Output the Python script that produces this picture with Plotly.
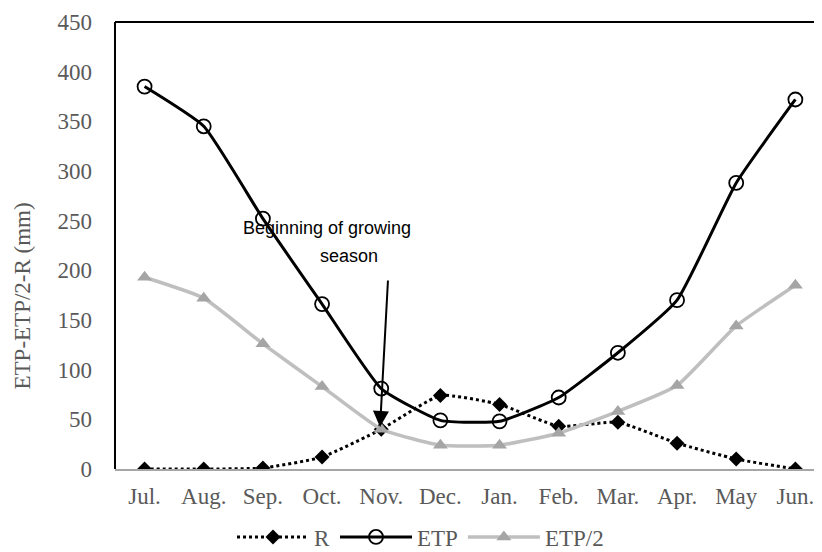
import plotly.graph_objects as go

months = ["Jul.", "Aug.", "Sep.", "Oct.", "Nov.", "Dec.", "Jan.", "Feb.", "Mar.", "Apr.", "May", "Jun."]
R = [0, 0, 1, 12, 40, 74, 65, 43, 47, 26, 10, 0]
ETP = [385, 345, 252, 166, 81, 49, 48, 72, 117, 170, 288, 372]
ETP_half = [193, 172, 126, 83, 40, 24, 24, 36, 58, 84, 144, 185]
y_ticks = [0, 50, 100, 150, 200, 250, 300, 350, 400, 450]

serif = "Liberation Serif, Times New Roman, serif"
tick_gray = "#595959"
FS = 23

x_idx = list(range(len(months)))
SM = 0.45

# page body has an 8px margin, so the figure is sized to fit inside the window
W, H = 814, 544
OFF = 8
L = 115 - OFF
PW = W - L

fig = go.Figure()
fig.add_trace(go.Scatter(
    x=x_idx, y=R, name="R", mode="lines+markers",
    line=dict(color="black", width=3, dash="dot", shape="spline", smoothing=SM),
    marker=dict(symbol="diamond", size=11.5, color="black"),
))
fig.add_trace(go.Scatter(
    x=x_idx, y=ETP, name="ETP", mode="lines+markers",
    line=dict(color="black", width=3, shape="spline", smoothing=SM),
    marker=dict(symbol="circle-open", size=14, color="black", line=dict(width=1.8, color="black")),
))
fig.add_trace(go.Scatter(
    x=x_idx, y=ETP_half, name="ETP/2", mode="lines+markers",
    line=dict(color="#bfbfbf", width=3.5, shape="spline", smoothing=SM),
    marker=dict(symbol="triangle-up", size=13, color="#a5a5a5"),
))

fig.update_layout(
    width=W, height=H,
    margin=dict(l=L, r=0, t=22 - OFF, b=H - (469 - OFF), autoexpand=False),
    plot_bgcolor="white", paper_bgcolor="white",
    font=dict(family=serif, size=FS, color=tick_gray),
    showlegend=True,
    legend=dict(
        orientation="h", xref="container", yref="container",
        x=(232 - OFF) / W, xanchor="left", y=1 - (537 - OFF) / H, yanchor="middle",
        font=dict(family=serif, size=FS, color=tick_gray),
        itemwidth=72, bgcolor="rgba(0,0,0,0)",
    ),
    xaxis=dict(
        range=[-0.5, 11.45], tickmode="array", tickvals=x_idx, ticktext=months,
        showgrid=False, zeroline=False, showline=True, linecolor="#a6a6a6", linewidth=1.5,
        ticks="", ticklabelstandoff=6, automargin=False,
        tickfont=dict(family=serif, size=FS, color=tick_gray),
    ),
    yaxis=dict(
        range=[0, 450], tickmode="array", tickvals=y_ticks,
        showgrid=False, zeroline=False, showline=False,
        ticks="", ticklabelstandoff=22, automargin=False,
        tickfont=dict(family=serif, size=FS, color=tick_gray),
    ),
)

# plot area border (left and top)
fig.add_shape(type="line", xref="paper", yref="paper", x0=0, x1=0, y0=0, y1=1,
              line=dict(color="black", width=2))
fig.add_shape(type="line", xref="paper", yref="paper", x0=0, x1=1, y0=1, y1=1,
              line=dict(color="black", width=2))

# y-axis title
fig.add_annotation(
    text="ETP-ETP/2-R (mm)", xref="paper", yref="paper",
    x=-L / PW, y=0.387, showarrow=False, textangle=-90,
    font=dict(family=serif, size=FS, color=tick_gray),
    xanchor="left", yanchor="middle",
)

ann_font = dict(family="Liberation Sans, Arial, sans-serif", size=18, color="black")
fig.add_annotation(text="Beginning of growing", x=3.083, y=242.7, showarrow=False,
                   font=ann_font, xanchor="center", yanchor="middle")
fig.add_annotation(text="season", x=3.455, y=214.5, showarrow=False,
                   font=ann_font, xanchor="center", yanchor="middle")
fig.add_annotation(
    text="", x=3.98, y=42.3, ax=4.115, ay=191.3, axref="x", ayref="y",
    showarrow=True, arrowhead=2, arrowsize=1.6, arrowwidth=2, arrowcolor="black",
    standoff=0,
)

fig.write_html("out.html")
